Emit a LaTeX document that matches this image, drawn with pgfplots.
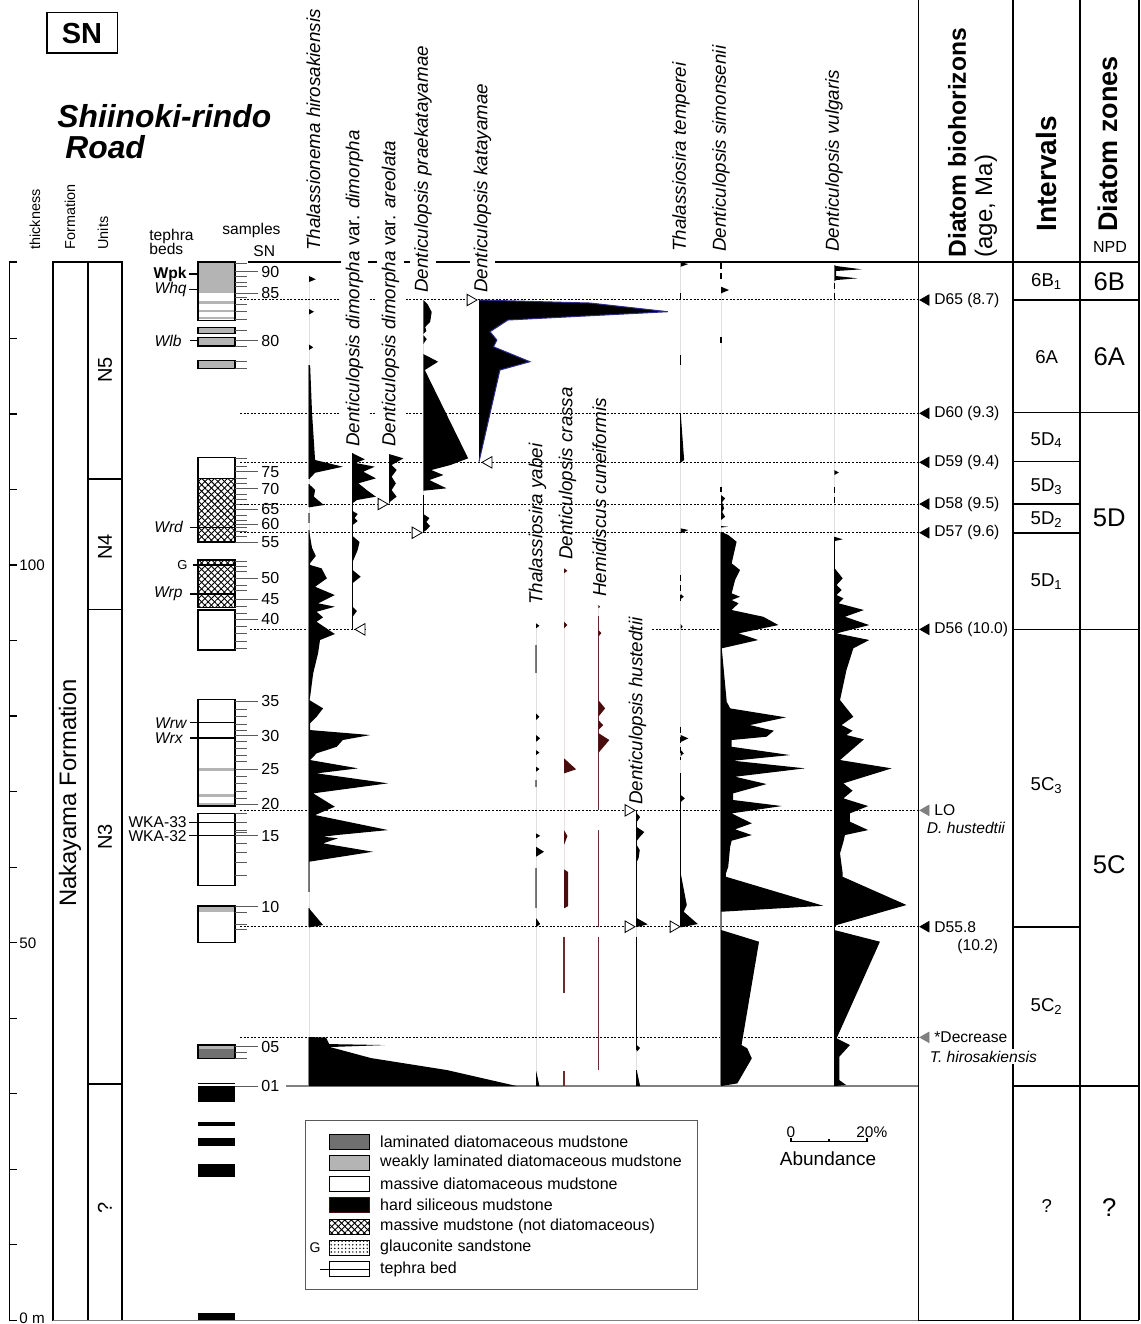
\documentclass[border=0pt]{standalone}
\usepackage{pgfplots}
\pgfplotsset{compat=1.18}
\usepackage{pgfplotstable}
\usepackage{fontspec}
\setmainfont{Liberation Sans}
\usetikzlibrary{patterns,patterns.meta}
\definecolor{wlam}{RGB}{180,180,180}
\definecolor{lam}{RGB}{112,112,112}
\definecolor{dred}{RGB}{72,14,14}
\definecolor{rline}{RGB}{105,45,45}
\definecolor{kblue}{RGB}{45,45,140}
\definecolor{tickc}{RGB}{90,90,90}
\newcommand\fs[1]{\fontsize{#1}{#1}\selectfont}

% Thalassionema hirosakiensis
\pgfplotstableread{
m p
138.25 0
137.82 1.8
137.46 0
133.88 0
133.53 1.3
133.16 0
129.19 0
128.81 1.1
128.46 0
126.47 0
126.40 0.3
120.12 0.8
113.90 1.6
113.01 8.9
112.21 1.6
111.34 0
110.72 0
109.92 1.6
109.04 1.3
107.94 3.9
107.63 0
104.63 0
102.25 0.8
101.19 1.8
100.26 0.3
100.00 0.3
99.56 3.3
98.23 4.7
97.12 1.6
96.02 6.8
94.93 2.4
94.48 6.8
93.81 2.0
93.07 3.7
92.49 2.0
90.86 6.8
90.07 2.9
88.35 2.4
85.66 1.1
82.56 0.3
82.12 0.1
81.02 3.7
79.91 2.0
79.04 0.3
78.15 0.3
77.49 16.1
76.83 8.9
75.94 7.3
75.07 2.0
74.18 0.3
73.08 12.9
72.42 2.0
71.10 20.8
69.77 1.1
68.00 6.8
66.90 1.6
64.91 20.8
64.25 7.3
64.03 3.7
63.82 7.6
63.15 3.7
62.04 16.8
60.72 0
54.55 0
52.34 3.7
52.03 0
37.51 0
37.44 4.5
36.58 5.3
36.45 20.0
36.19 5.5
34.73 16.3
33.14 36.3
31.02 54.7
31.02 0
}\thA
% Denticulopsis dimorpha var. dimorpha
\pgfplotstableread{
m p
114.78 0
113.99 3.2
113.50 0.8
113.01 5.8
112.35 2.8
111.47 6.1
110.81 1.5
109.92 3.7
109.04 6.1
108.60 1.1
108.20 0
107.14 0
106.75 1.3
106.22 0.5
105.82 1.3
105.29 0
103.83 0
103.04 1.8
101.98 1.3
100.43 0
99.33 0
98.45 2.1
97.61 0
94.48 0
93.91 1.1
93.15 0
}\thB
% D. dimorpha var. areolata
\pgfplotstableread{
m p
114.69 0
114.12 3.8
113.23 0.7
112.57 2.0
111.69 0.7
110.81 1.8
109.92 0.7
109.04 2.0
108.38 0.3
108.07 0
}\thC
% D. praekatayamae
\pgfplotstableread{
m p
135.08 0
134.55 1.1
133.49 2.2
132.16 1.8
131.50 0.5
130.97 0.8
130.58 0
130.44 0
129.91 0.9
129.25 0
127.93 0
126.91 3.9
125.81 0.4
114.12 11.8
113.23 7.1
112.57 2.1
111.91 5.3
111.25 1.6
110.15 6.1
109.83 0
106.75 0
106.22 1.6
105.69 0.8
105.16 1.8
104.63 0.8
104.36 0
}\thD
% D. katayamae
\pgfplotstableread{
m p
135.08 0
134.68 29.2
133.53 49.7
132.43 7.6
130.88 2.9
129.78 4.7
128.89 3.8
126.91 13.4
125.81 5.5
113.67 0
}\thE
% Thalassiosira yabei
\pgfplotstableread{
m p
92.28 0
91.95 0.9
91.62 0
80.36 0
79.91 0.9
79.48 0
77.49 0
77.05 1.1
76.60 0
75.50 0
75.17 0.9
74.84 0
73.30 0
72.99 0.9
72.63 0
64.48 0
64.15 1.1
63.82 0
62.70 0
62.04 2.1
61.38 0
53.27 0
52.47 1.1
52.03 0
33.14 0
31.02 0.9
31.02 0
}\thF
% D. crassa
\pgfplotstableread{
m p
99.56 0
99.23 0.9
98.90 0
92.49 0
92.05 0.9
91.62 0
74.41 0
72.95 3.2
72.42 0
64.91 0
64.12 0.9
62.93 0
59.71 0
59.35 1.1
54.85 1.1
54.55 0
}\thG
% Hemidiscus cuneiformis
\pgfplotstableread{
m p
94.70 0
94.48 0.5
94.26 0
91.39 0
90.99 0.8
90.50 0
82.12 0
81.02 1.8
79.91 0
79.48 0
78.81 1.3
78.15 0
77.76 0
76.83 2.9
75.11 0
}\thH
% D. hustedtii
\pgfplotstableread{
m p
67.16 0
66.64 0.9
65.97 0
65.31 0
64.65 2.0
63.99 0.8
63.46 0
62.93 0
62.27 0.8
61.21 0.5
60.68 0
53.27 0
52.43 2.9
52.07 0
36.45 0
36.06 0.9
35.57 0
33.14 0
31.02 0.9
31.02 0
}\thI
% Thalassiosira temperei
\pgfplotstableread{
m p
140.07 0
139.84 2.0
139.48 0
120.08 0
113.90 0.9
113.54 0
104.85 0
104.63 2.0
104.19 0
96.16 0
95.80 0.8
95.49 0
92.18 0
91.83 0.5
91.52 0
77.49 0
77.05 2.0
76.57 0
75.50 0
75.07 0.8
74.71 0
69.55 0
69.11 1.1
68.62 0
59.18 0
54.99 1.6
54.10 0.8
52.47 4.5
52.03 0
}\thJ
% D. simonsenii
\pgfplotstableread{
m p
136.84 0
136.40 2.1
135.96 0
109.26 0
108.82 1.1
108.33 0.3
107.50 0.8
107.01 0.3
106.39 1.1
105.95 0
105.16 0
105.06 1.9
104.96 0
104.40 0
103.97 1.9
103.08 4.1
100.22 2.8
99.33 5.0
98.01 3.7
96.25 2.8
95.80 5.0
95.36 2.8
94.93 4.6
94.04 2.8
93.15 11.1
92.05 15.1
90.95 4.6
90.07 9.8
88.97 0.2
81.90 1.5
81.02 2.4
79.83 17.1
78.81 7.6
78.06 13.9
77.27 12.0
76.83 2.8
75.94 2.8
74.84 18.2
74.09 3.2
73.08 22.1
71.97 3.7
71.00 12.0
69.77 3.2
68.89 3.2
68.09 16.0
67.12 2.8
65.80 8.1
65.01 3.7
64.25 8.1
63.50 2.8
62.70 2.4
60.06 1.9
59.18 1.3
58.73 1.3
54.89 26.9
54.10 0.1
54.08 0
51.68 0
51.61 0.5
50.13 10.0
36.45 5.4
36.02 6.9
34.69 8.1
31.38 4.3
31.02 0
}\thK
% D. vulgaris
\pgfplotstableread{
m p
139.71 0
139.58 0.5
139.14 7.2
138.92 0.5
138.25 0.5
137.95 6.1
137.72 0.5
137.59 0
112.57 0
112.24 1.2
111.91 0
103.74 0
103.40 2.2
103.17 0.1
99.56 0.1
98.23 2.2
97.35 0.6
96.69 1.9
96.02 0.6
95.59 2.4
94.93 1.1
94.04 7.8
93.15 2.8
92.05 9.2
90.95 0.6
90.07 9.2
88.97 5.0
86.10 3.2
82.12 1.5
79.91 5.0
78.81 1.9
78.06 4.8
77.49 3.2
76.92 7.8
74.18 1.5
73.08 15.1
71.10 2.4
70.12 4.8
69.11 2.4
68.09 8.9
67.12 4.1
66.02 4.1
64.91 8.9
64.25 2.8
63.37 2.4
61.83 1.5
59.18 2.2
58.73 2.2
54.99 19.0
52.34 0.6
51.94 0
51.68 0
50.13 12.0
37.34 0.6
36.45 4.1
34.90 1.3
31.82 1.3
31.16 3.1
31.02 0
}\thL

\newcommand\curve[3]{\addplot[#3] table[x expr={#1+3.8*\thisrow{p}}, y expr={1320.4-7.554*\thisrow{m}}] {#2};}
\newcommand\pres[4]{\addplot[#4] table[row sep=\\, x expr={#1}, y expr={1320.4-7.554*\thisrow{m}}] {m\\ #2\\ #3\\};}
\newcommand\otri[3]{\addplot[only marks, mark=triangle*, mark size=3.3pt, mark options={rotate=#3, fill=white, draw=black, line width=0.4pt}] table[row sep=\\, x expr={#1}, y expr={1320.4-7.554*\thisrow{m}}] {m\\ #2\\};}
\newcommand\btri[2]{\addplot[only marks, mark=triangle*, mark size=3pt, mark options={rotate=90, fill=#2, draw=#2}] table[row sep=\\, x expr={926}, y expr={1320.4-7.554*\thisrow{m}}] {m\\ #1\\};}
\newcommand\blk[3]{\draw[#3] (198,#1) rectangle (235,#2);}
\newcommand\xh[2]{\fill[white] (198,#1) rectangle (235,#2);
 \fill[pattern={Lines[angle=45,distance=2.3pt,line width=0.45pt]}] (198,#1) rectangle (235,#2);
 \fill[pattern={Lines[angle=-45,distance=2.3pt,line width=0.45pt]}] (198,#1) rectangle (235,#2);
 \draw[line width=0.7pt] (198,#1) rectangle (235,#2);}
\newcommand\sam[2]{\draw[tickc, line width=0.5pt] (235,#1) -- (258,#1); \node[anchor=west, inner sep=0] at (261,#1) {\fs{8}#2};}
\newcommand\stripe[2]{\draw[wlam, line width=#2] (198.5,#1) -- (234.5,#1);}

\begin{document}
\begin{tikzpicture}
\begin{axis}[scale only axis, width=570pt, height=662pt,
  xmin=0, xmax=1140, ymin=0, ymax=1324, y dir=reverse,
  hide axis, clip=false]

% ---------- thickness axis ----------
\draw[line width=0.6pt] (16.7,262) -- (9.3,262) -- (9.3,1320.4) -- (16.7,1320.4);
\pgfplotsinvokeforeach{1,...,13}{\draw[line width=0.6pt] (9.3,{1320.4-75.54*#1}) -- (16.7,{1320.4-75.54*#1});}
\node[anchor=west, inner sep=0] at (19,565) {\fs{7.6}100};
\node[anchor=west, inner sep=0] at (19,943) {\fs{7.6}50};
\node[anchor=west, inner sep=0] at (19,1318) {\fs{7.6}0 m};

% ---------- formation / units ----------
\draw[line width=0.7pt] (53,262) rectangle (88,1320.4);
\draw[line width=0.7pt] (88,262) rectangle (122,1320.4);
\draw[line width=0.7pt] (88,479) -- (122,479);
\draw[line width=0.7pt] (88,609.3) -- (122,609.3);
\draw[line width=0.7pt] (88,1084) -- (122,1084);
\node[rotate=90] at (70,793) {\fs{11.9}Nakayama Formation};
\node[rotate=90] at (105,370) {\fs{10}N5};
\node[rotate=90] at (105,547) {\fs{10}N4};
\node[rotate=90] at (105,837) {\fs{10}N3};
\node[rotate=90] at (105,1208) {\fs{10}?};

% ---------- headers left ----------
\draw[line width=0.8pt] (46.7,12.7) rectangle (117.3,53.3);
\node at (82,33.5) {\fs{14.5}\bfseries SN};
\node[anchor=base west, inner sep=0] at (57,128) {\fs{15.9}\bfseries\itshape Shiinoki-rindo};
\node[anchor=base west, inner sep=0] at (65,159) {\fs{15.9}\bfseries\itshape Road};
\node[rotate=90, anchor=west, inner sep=0] at (35,250) {\fs{7.2}thickness};
\node[rotate=90, anchor=west, inner sep=0] at (70,250) {\fs{7.2}Formation};
\node[rotate=90, anchor=west, inner sep=0] at (103,250) {\fs{7.2}Units};
\node[anchor=base west, inner sep=0] at (149,240.5) {\fs{7.8}tephra};
\node[anchor=base west, inner sep=0] at (149,255) {\fs{7.8}beds};
\node[anchor=base west, inner sep=0] at (222,235) {\fs{7.8}samples};
\node[anchor=base west, inner sep=0] at (253,257) {\fs{7.8}SN};

% ---------- lithology column ----------
\fill[wlam] (198,262) rectangle (235,293);
\stripe{302.7}{1.3pt}\stripe{311}{1.3pt}\stripe{317.7}{1pt}
\draw[line width=0.7pt] (198,262) rectangle (235,320.5);
\blk{327.7}{333.3}{fill=wlam, line width=0.7pt}
\blk{337.3}{346}{fill=wlam, line width=0.7pt}
\blk{360.7}{368.7}{fill=wlam, line width=0.7pt}
\blk{457.7}{478.7}{line width=0.7pt}
\xh{478.7}{542}
\xh{560}{607.3}
\blk{610}{650}{line width=0.7pt}
\stripe{769.3}{1.3pt}\stripe{795.3}{1.3pt}\stripe{804}{1.3pt}
\blk{699.3}{806}{line width=0.7pt}
\blk{813.3}{885.7}{line width=0.7pt}
\fill[wlam] (198,906.5) rectangle (235,911.7);
\blk{906}{942.7}{line width=0.7pt}
\fill[lam] (198,1045) rectangle (235,1058.3);
\fill[wlam] (198,1045) rectangle (235,1048.5);
\blk{1045}{1058.3}{line width=0.7pt}
\fill[black] (198,1082.5) rectangle (235,1083.8);
\fill[black] (198,1086) rectangle (235,1101.7);
\fill[black] (198,1121.7) rectangle (235,1126);
\fill[black] (198,1138.3) rectangle (235,1146);
\fill[black] (198,1164.3) rectangle (235,1176.7);
\fill[black] (198,1313.3) rectangle (235,1320.4);

% tephra beds
\node[anchor=east, inner sep=0] at (187,274) {\fs{7.8}\bfseries Wpk};
\draw[line width=0.6pt] (189,274) -- (198,274);
\node[anchor=east, inner sep=0] at (187,289.3) {\fs{7.8}\itshape Whq};
\draw[line width=0.6pt] (189,289.3) -- (198,289.3);
\node[anchor=east, inner sep=0] at (182,340.7) {\fs{7.8}\itshape Wlb};
\draw[line width=0.6pt] (190,340.7) -- (198,340.7);
\node[anchor=east, inner sep=0] at (183.3,527.3) {\fs{7.8}\itshape Wrd};
\draw[line width=0.6pt] (190,527.3) -- (235,527.3);
\node[anchor=east, inner sep=0] at (188,565) {\fs{6.5}G};
\draw[line width=1.1pt] (192.7,565) -- (235,565);
\node[anchor=east, inner sep=0] at (183,594) {\fs{7.8}\itshape Wrp};
\draw[line width=0.6pt] (190,594) -- (235,594);
\node[anchor=east, inner sep=0] at (186.7,722.7) {\fs{7.8}\itshape Wrw};
\draw[line width=0.6pt] (190,722.7) -- (235,722.7);
\node[anchor=east, inner sep=0] at (183,738) {\fs{7.8}\itshape Wrx};
\draw[line width=0.6pt] (190,738) -- (235,738);
\node[anchor=east, inner sep=0] at (187,822.3) {\fs{7.8}WKA-33};
\draw[line width=0.6pt] (189,822.3) -- (235,822.3);
\node[anchor=east, inner sep=0] at (187,835.7) {\fs{7.8}WKA-32};
\draw[line width=0.6pt] (189,835.7) -- (235,835.7);

% sample ticks
\pgfplotsinvokeforeach{263.5,277,282.5,287,298,305,311.7,320,331,346.5,361.5,368.5,458.3,466.7,478.3,483.3,495,499.5,504.5,515,520,527.5,531.5,536,561.7,566.7,571.7,585,590,606.7,613.3,626.7,633.3,641.7,648.3,709,716.7,724,730,741.7,748.3,755,761.7,776,783.3,791.7,798.3,813.3,822.3,830,832.5,843,852,862.7,875,912.3,924,929.3,1052.7,1058.3}{\draw[tickc, line width=0.5pt] (235,#1) -- (247,#1);}
\sam{271.7}{90}\sam{293.3}{85}\sam{340.7}{80}\sam{471.7}{75}\sam{489}{70}
\sam{509.3}{65}\sam{524}{60}\sam{542.3}{55}\sam{578.3}{50}\sam{599}{45}
\sam{619}{40}\sam{701}{35}\sam{735.7}{30}\sam{769.3}{25}\sam{804}{20}
\sam{835.7}{15}\sam{906.7}{10}\sam{1046.7}{05}\sam{1086}{01}

% ---------- frame lines ----------
\draw[line width=0.6pt] (248,262) -- (1139,262);
\draw[gray, line width=0.6pt] (286,1086) -- (918.3,1086);
\draw[gray, line width=0.6pt] (53,1320.4) -- (918.3,1320.4);
\draw[line width=0.8pt] (918.3,0) -- (918.3,1320.4);
\draw[line width=0.8pt] (1012.7,0) -- (1012.7,1320.4);
\draw[line width=0.8pt] (1080,0) -- (1080,1320.4);
\draw[line width=0.8pt] (1139,0) -- (1139,1320.4);
\draw[line width=0.8pt] (918.3,1320.4) -- (1139,1320.4);
\draw[line width=0.8pt] (1012.7,300) -- (1139,300);
\draw[line width=0.8pt] (1012.7,412.7) -- (1139,412.7);
\draw[line width=0.8pt] (1012.7,461.7) -- (1080,461.7);
\draw[line width=0.8pt] (1012.7,504.3) -- (1080,504.3);
\draw[line width=0.8pt] (1012.7,532.7) -- (1080,532.7);
\draw[line width=0.8pt] (1012.7,629.3) -- (1139,629.3);
\draw[line width=0.8pt] (1012.7,926.7) -- (1080,926.7);
\draw[line width=0.8pt] (1012.7,1086) -- (1139,1086);
\draw[gray, line width=0.6pt] (900,1086) -- (918.3,1086);

% biohorizon dotted lines
\pgfplotsinvokeforeach{300,413.3,462.3,504,532.7,810.3,926.7,1037.3}{\draw[line width=0.5pt, dash pattern=on 1pt off 0.8pt] (240,#1) -- (918.3,#1);}
\draw[line width=0.5pt, dash pattern=on 1pt off 0.8pt] (250,629.3) -- (366,629.3);
\draw[line width=0.5pt, dash pattern=on 1pt off 0.8pt] (652,629.3) -- (918.3,629.3);

% ---------- presence lines ----------
\pres{309}{126.47}{111.34}{gray, line width=0.6pt}
\pres{309}{110.72}{107.63}{gray, line width=0.6pt}
\pres{309}{106.88}{105.55}{gray, line width=0.6pt}
\pres{309}{104.63}{56.75}{gray, line width=0.6pt}
\pres{309}{54.55}{52.03}{gray, line width=0.6pt}
\pres{309}{37.51}{31.02}{gray, line width=0.6pt}
\pres{352.7}{114.78}{91.48}{black, line width=0.6pt}
\pres{423.3}{109.26}{104.19}{black, line width=0.6pt}
\pres{536}{89.40}{85.66}{gray, line width=0.6pt}
\pres{536}{71.53}{70.65}{gray, line width=0.6pt}
\pres{536}{59.84}{54.55}{gray, line width=0.6pt}
\pres{564}{50.79}{43.30}{rline, line width=0.6pt}
\pres{564}{33.05}{31.02}{rline, line width=0.6pt}
\pres{598.3}{93.24}{67.56}{rline, line width=0.6pt}
\pres{598.3}{64.91}{52.07}{rline, line width=0.6pt}
\pres{598.3}{50.79}{33.14}{rline, line width=0.6pt}
\pres{636.7}{67.56}{52.07}{black, line width=0.6pt}
\pres{636.7}{50.79}{35.79}{black, line width=0.6pt}
\pres{636.7}{33.14}{31.02}{black, line width=0.6pt}
\pres{680.7}{136.00}{135.08}{black, line width=0.6pt}
\pres{680.7}{127.79}{126.47}{black, line width=0.6pt}
\pres{680.7}{120.08}{113.54}{black, line width=0.6pt}
\pres{680.7}{98.67}{94.70}{black, line width=0.6pt, dash pattern=on 3pt off 2pt}
\pres{680.7}{78.59}{74.18}{black, line width=0.6pt, dash pattern=on 3pt off 2pt}
\pres{680.7}{72.46}{52.03}{black, line width=0.6pt}
\pres{721}{139.93}{137.72}{black, line width=0.6pt, dash pattern=on 3pt off 2pt}
\pres{721}{130.22}{129.34}{black, line width=0.6pt}
\pres{721}{110.28}{109.70}{black, line width=0.6pt}
\pres{721}{104.40}{31.02}{gray, line width=0.7pt}
\pres{834.3}{137.33}{135.08}{black, line width=0.6pt, dash pattern=on 3pt off 2pt}
\pres{834.3}{110.36}{108.16}{black, line width=0.6pt, dash pattern=on 3pt off 2pt}
\pres{834.3}{103.74}{31.02}{black, line width=0.7pt}

% ---------- abundance curves ----------
\curve{309}{\thA}{fill=black, draw=none}
\curve{352.7}{\thB}{fill=black, draw=none}
\curve{389}{\thC}{fill=black, draw=none}
\curve{423.3}{\thD}{fill=black, draw=none}
\curve{479}{\thE}{fill=black, draw=kblue, line width=0.5pt}
\curve{536}{\thF}{fill=black, draw=none}
\curve{564}{\thG}{fill=dred, draw=none}
\curve{598.3}{\thH}{fill=dred, draw=none}
\curve{636.7}{\thI}{fill=black, draw=none}
\curve{680.7}{\thJ}{fill=black, draw=none}
\curve{721}{\thK}{fill=black, draw=none}
\curve{834.3}{\thL}{fill=black, draw=none}

% first / last occurrence markers
\otri{470.4}{135.08}{-90}
\otri{488.6}{113.59}{90}
\otri{381.4}{108.07}{-90}
\otri{415.4}{104.27}{-90}
\otri{361.6}{91.48}{90}
\otri{628.4}{67.52}{-90}
\otri{628.4}{52.12}{-90}
\otri{673.4}{52.12}{-90}

% ---------- species names ----------
\node[rotate=90, anchor=west, inner sep=0] at (313.5,251) {\fs{9.4}\itshape Thalassionema hirosakiensis};
\node[rotate=90, anchor=west, inner sep=2.5pt, fill=white] at (354.5,452) {\fs{9.4}\itshape Denticulopsis dimorpha {\upshape var.} dimorpha};
\node[rotate=90, anchor=west, inner sep=2.5pt, fill=white] at (390.5,452) {\fs{9.4}\itshape Denticulopsis dimorpha {\upshape var.} areolata};
\node[rotate=90, anchor=west, inner sep=2pt, fill=white] at (423,297) {\fs{9.4}\itshape Denticulopsis praekatayamae};
\node[rotate=90, anchor=west, inner sep=2pt, fill=white] at (482.5,297) {\fs{9.4}\itshape Denticulopsis katayamae};
\node[rotate=90, anchor=west, inner sep=0] at (537.5,605) {\fs{9.4}\itshape Thalassiosira yabei};
\node[rotate=90, anchor=west, inner sep=0] at (567.5,560) {\fs{9.4}\itshape Denticulopsis crassa};
\node[rotate=90, anchor=west, inner sep=0] at (599.5,597) {\fs{9.4}\itshape Hemidiscus cuneiformis};
\node[rotate=90, anchor=west, inner sep=0] at (637.5,805) {\fs{9.4}\itshape Denticulopsis hustedtii};
\node[rotate=90, anchor=west, inner sep=0] at (681,252) {\fs{9.4}\itshape Thalassiosira temperei};
\node[rotate=90, anchor=west, inner sep=0] at (721,252) {\fs{9.4}\itshape Denticulopsis simonsenii};
\node[rotate=90, anchor=west, inner sep=0] at (834,252) {\fs{9.4}\itshape Denticulopsis vulgaris};

% ---------- biohorizons ----------
\btri{135.08}{black}\btri{120.08}{black}\btri{113.59}{black}\btri{108.07}{black}
\btri{104.27}{black}\btri{91.48}{black}\btri{67.52}{gray}\btri{52.12}{black}\btri{37.47}{gray}
\node[anchor=west, inner sep=0] at (934,300) {\fs{7.8}D65 (8.7)};
\node[anchor=west, inner sep=0] at (934,413.3) {\fs{7.8}D60 (9.3)};
\node[anchor=west, inner sep=0] at (934,462.3) {\fs{7.8}D59 (9.4)};
\node[anchor=west, inner sep=0] at (934,504) {\fs{7.8}D58 (9.5)};
\node[anchor=west, inner sep=0] at (934,532.7) {\fs{7.8}D57 (9.6)};
\node[anchor=west, inner sep=0] at (934,629.3) {\fs{7.8}D56 (10.0)};
\node[anchor=west, inner sep=0] at (934,810.3) {\fs{7.8}LO};
\node[anchor=west, inner sep=0] at (926.5,828.3) {\fs{7.8}\itshape D. hustedtii};
\node[anchor=west, inner sep=0] at (934,926.7) {\fs{7.8}D55.8};
\node[anchor=west, inner sep=0] at (957,946.7) {\fs{7.8}(10.2)};
\node[anchor=west, inner sep=0] at (934,1037.3) {\fs{7.8}*Decrease};
\node[anchor=west, inner sep=1pt, fill=white] at (927.5,1056.7) {\fs{7.8}\itshape T. hirosakiensis};

% right headers
\node[rotate=90, anchor=west, inner sep=0] at (957,258) {\fs{12.3}\bfseries Diatom biohorizons};
\node[rotate=90, anchor=west, inner sep=0] at (986,258) {\fs{12}(age, Ma)};
\node[rotate=90, anchor=west, inner sep=0] at (1046,232) {\fs{14}\bfseries Intervals};
\node[rotate=90, anchor=west, inner sep=0] at (1108,232) {\fs{13.5}\bfseries Diatom zones};
\node[anchor=base, inner sep=0] at (1110,253) {\fs{8}NPD};

\node at (1046.7,281.7) {\fs{9.3}6B\textsubscript{1}};
\node at (1046.7,356.7) {\fs{9.3}6A};
\node at (1046.7,440) {\fs{9.3}5D\textsubscript{4}};
\node at (1046.7,486.7) {\fs{9.3}5D\textsubscript{3}};
\node at (1046.7,519.3) {\fs{9.3}5D\textsubscript{2}};
\node at (1046.7,581.7) {\fs{9.3}5D\textsubscript{1}};
\node at (1046.7,786) {\fs{9.3}5C\textsubscript{3}};
\node at (1046.7,1006.7) {\fs{9.3}5C\textsubscript{2}};
\node at (1046.7,1206) {\fs{9.3}?};
\node at (1109.3,281.7) {\fs{12.8}6B};
\node at (1109.3,356.7) {\fs{12.8}6A};
\node at (1109.3,518.3) {\fs{12.8}5D};
\node at (1109.3,865) {\fs{12.8}5C};
\node at (1109.3,1208) {\fs{12.8}?};

% ---------- legend ----------
\draw[gray!70!black, line width=0.5pt] (305.5,1120.7) rectangle (697.3,1289);
\draw[fill=lam, line width=0.5pt] (329.6,1134) rectangle (369.6,1149.5);
\draw[fill=wlam, line width=0.5pt] (329.6,1155) rectangle (369.6,1170.5);
\draw[fill=white, line width=0.5pt] (329.6,1176.3) rectangle (369.6,1191.8);
\draw[fill=black, draw=dred, line width=0.5pt] (329.6,1197.3) rectangle (369.6,1212.8);
\fill[white] (329.6,1219) rectangle (369.6,1234.5);
\fill[pattern={Lines[angle=45,distance=2.3pt,line width=0.45pt]}] (329.6,1219) rectangle (369.6,1234.5);
\fill[pattern={Lines[angle=-45,distance=2.3pt,line width=0.45pt]}] (329.6,1219) rectangle (369.6,1234.5);
\draw[line width=0.5pt] (329.6,1219) rectangle (369.6,1234.5);
\fill[pattern={Dots[distance=1.8pt, radius=0.4pt]}] (329.6,1240) rectangle (369.6,1255.5);
\draw[line width=0.5pt] (329.6,1240) rectangle (369.6,1255.5);
\node at (315,1247.7) {\fs{7}G};
\draw[line width=0.5pt] (329.6,1261.3) rectangle (369.6,1276.8);
\draw[line width=0.5pt] (319.6,1269) -- (369.6,1269);
\node[anchor=west, inner sep=0] at (379.8,1141.7) {\fs{8}laminated diatomaceous mudstone};
\node[anchor=west, inner sep=0] at (379.8,1162.7) {\fs{8}weakly laminated diatomaceous mudstone};
\node[anchor=west, inner sep=0] at (379.8,1184) {\fs{8}massive diatomaceous mudstone};
\node[anchor=west, inner sep=0] at (379.8,1205) {\fs{8}hard siliceous mudstone};
\node[anchor=west, inner sep=0] at (379.8,1226.7) {\fs{8}massive mudstone (not diatomaceous)};
\node[anchor=west, inner sep=0] at (379.8,1247.7) {\fs{8}glauconite sandstone};
\node[anchor=west, inner sep=0] at (379.8,1269) {\fs{8}tephra bed};

% scale bar
\draw[line width=0.6pt] (791,1137.7) -- (791,1141.7) -- (867,1141.7) -- (867,1137.7);
\draw[line width=0.6pt] (829,1141.7) -- (829,1139);
\node[anchor=base, inner sep=0] at (791,1137) {\fs{7.7}0};
\node[anchor=base west, inner sep=0] at (856,1137) {\fs{7.7}20\%};
\node[anchor=base, inner sep=0] at (828,1165) {\fs{9.5}Abundance};

\path (0,0) rectangle (1140,1324);
\end{axis}
\pgfresetboundingbox
\path (current axis.south west) rectangle (current axis.north east);
\end{tikzpicture}
\end{document}
